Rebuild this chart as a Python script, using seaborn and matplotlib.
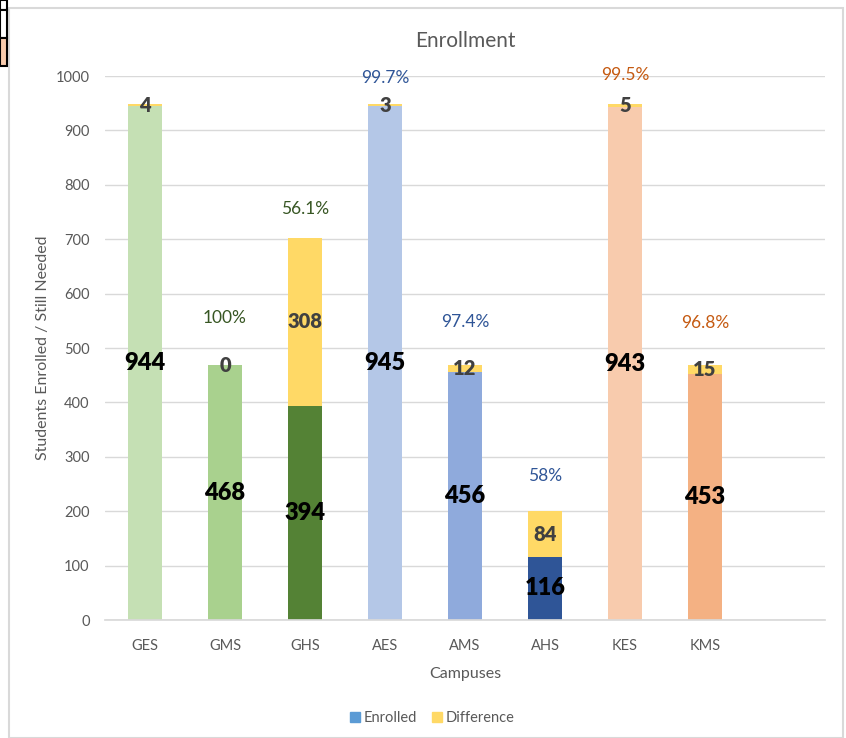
import matplotlib
matplotlib.use("Agg")
import matplotlib.pyplot as plt
import seaborn as sns
import pandas as pd
from matplotlib.patches import Rectangle
from matplotlib.lines import Line2D

campuses = ["GES", "GMS", "GHS", "AES", "AMS", "AHS", "KES", "KMS"]
enrolled = [944, 468, 394, 945, 456, 116, 943, 453]
difference = [4, 0, 308, 3, 12, 84, 5, 15]
pct_labels = ["", "100%", "56.1%", "99.7%", "97.4%", "58%", "99.5%", "96.8%"]
pct_label_y = [0, 555, 755, 996, 548, 265, 1002, 546]
bar_colors = ["#C5E0B4", "#A9D18E", "#548235", "#B4C7E7", "#8FAADC", "#2F5597", "#F8CBAD", "#F4B183"]
pct_colors = ["#375623", "#375623", "#375623", "#2F5597", "#2F5597", "#2F5597", "#C55A11", "#C55A11"]
diff_color = "#FFD966"
order = campuses + [" "]

sns.set_theme(style="white")
plt.rcParams["font.family"] = ["Lato", "DejaVu Sans"]

df = pd.DataFrame({"Campus": campuses, "Enrolled": enrolled, "Difference": difference})
df["Total"] = df["Enrolled"] + df["Difference"]

fig = plt.figure(figsize=(8.46, 7.38), dpi=100)
ax = fig.add_axes([105/846, 1-620/738, 720/846, 544/738])

sns.barplot(data=df, x="Campus", y="Total", order=order, color=diff_color,
            width=0.43, saturation=1, linewidth=0, ax=ax)
sns.barplot(data=df, x="Campus", y="Enrolled", order=order, hue="Campus",
            hue_order=campuses, palette=bar_colors, width=0.43, saturation=1,
            linewidth=0, legend=False, ax=ax)

for i, (e, d) in enumerate(zip(enrolled, difference)):
    ax.text(i, e/2, str(e), ha="center", va="center", fontsize=17,
            fontweight="heavy", color="black")
    ax.text(i, e + d/2, str(d), ha="center", va="center", fontsize=14.5,
            fontweight="heavy", color="#404040")
    if pct_labels[i]:
        ax.text(i, pct_label_y[i], pct_labels[i], ha="center", va="center",
                fontsize=12.5, color=pct_colors[i])

ax.set_xlim(-0.5, 8.5)
ax.set_ylim(0, 1000)
ax.set_yticks(range(0, 1001, 100))
ax.yaxis.grid(True, color="#D9D9D9", linewidth=1)
ax.set_axisbelow(True)
for s in ["top", "right", "left"]:
    ax.spines[s].set_visible(False)
ax.spines["bottom"].set_color("#D9D9D9")
ax.tick_params(axis="both", colors="#595959", labelsize=10.5, length=0)
ax.tick_params(axis="x", pad=14)
ax.tick_params(axis="y", pad=11)
ax.set_xlabel("Campuses", fontsize=11.5, color="#595959", labelpad=10)
ax.set_ylabel("Students Enrolled / Still Needed", fontsize=11.5, color="#595959", labelpad=4)
ax.set_title("Enrollment", fontsize=15, color="#595959", pad=21)

handles = [Line2D([], [], marker="s", linestyle="", markersize=7, color="#5B9BD5"),
           Line2D([], [], marker="s", linestyle="", markersize=7, color=diff_color)]
fig.legend(handles, ["Enrolled", "Difference"], loc="center", bbox_to_anchor=(432/846, 1-718/738),
           ncol=2, frameon=False, fontsize=10.5, handlelength=0.8, handletextpad=0.2,
           columnspacing=1.0, labelcolor="#595959")

# chart border
fig.patches.append(Rectangle((9/846, 0), 834/846, 1-8/738, transform=fig.transFigure,
                             fill=False, edgecolor="#D9D9D9", linewidth=1.5))
# spreadsheet cell fragments at top-left
fig.patches.append(Rectangle((0, 1-10/738), 7/846, 10/738, transform=fig.transFigure,
                             facecolor="white", edgecolor="black", linewidth=1.5))
fig.patches.append(Rectangle((0, 1-38/738), 7/846, 28/738, transform=fig.transFigure,
                             facecolor="white", edgecolor="black", linewidth=1.5))
fig.patches.append(Rectangle((0, 1-66/738), 7/846, 28/738, transform=fig.transFigure,
                             facecolor="#F8CBAD", edgecolor="black", linewidth=1.5))

fig.savefig("out.png", dpi=100)
